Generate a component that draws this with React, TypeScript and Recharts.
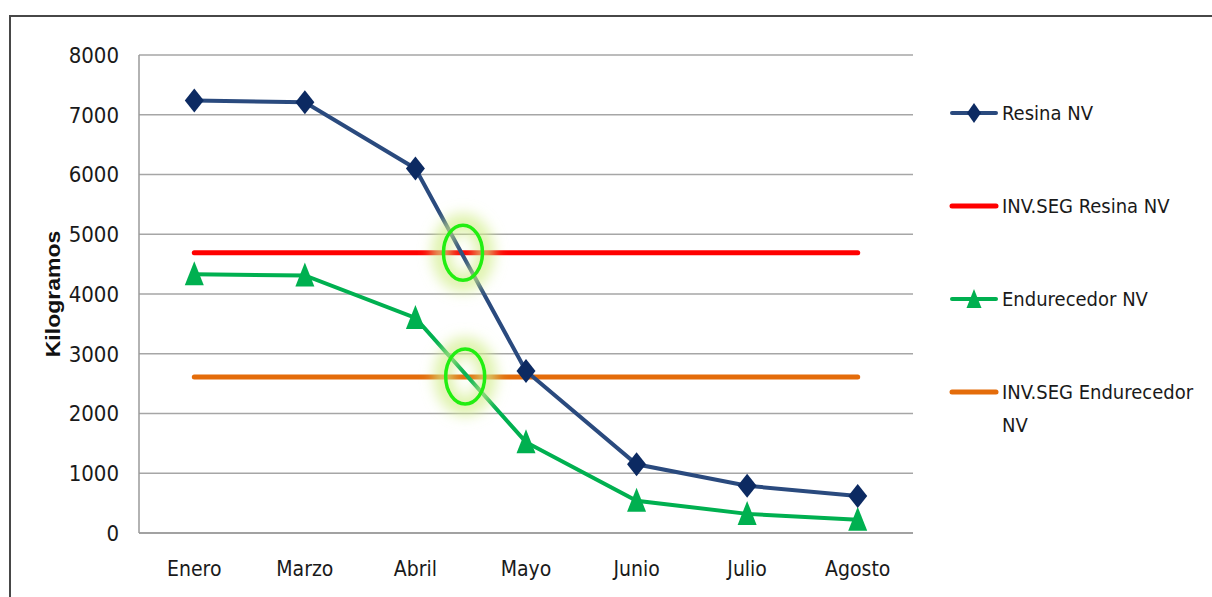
import React from 'react';
import {
  LineChart,
  Line,
  XAxis,
  YAxis,
  CartesianGrid,
  ReferenceDot,
} from 'recharts';

// Monthly stock (kg) and safety-stock levels
const months = ['Enero', 'Marzo', 'Abril', 'Mayo', 'Junio', 'Julio', 'Agosto'];
const resinaNV = [7240, 7210, 6100, 2710, 1150, 790, 620];
const invSegResinaNV = [4690, 4690, 4690, 4690, 4690, 4690, 4690];
const endurecedorNV = [4330, 4310, 3600, 1520, 540, 320, 220];
const invSegEndurecedorNV = [2610, 2610, 2610, 2610, 2610, 2610, 2610];
const yTicks = [0, 1000, 2000, 3000, 4000, 5000, 6000, 7000, 8000];
const monthTicks = months.map((_, i) => i);

// Points where stock drops below the safety level (x as month index)
const highlightX = [2.43, 2.45];
const highlightY = [4690, 2620];

const seriesNames = ['Resina NV', 'INV.SEG Resina NV', 'Endurecedor NV', 'INV.SEG Endurecedor NV'];

const data = months.map((m, i) => ({
  idx: i,
  month: m,
  resina: resinaNV[i],
  invResina: invSegResinaNV[i],
  endurecedor: endurecedorNV[i],
  invEndurecedor: invSegEndurecedorNV[i],
}));

const FONT = "'Liberation Sans Narrow', 'DejaVu Sans Condensed', 'Liberation Sans', sans-serif";
const BLUE_LINE = '#2A4A7E';
const BLUE_MARK = '#0C2A62';
const GREEN = '#00B050';
const RED = '#FF0000';
const ORANGE = '#E46C0A';

const Diamond = (props: any) => {
  const { cx, cy, index } = props;
  if (cx == null || cy == null) return null;
  const w = 9.5;
  const h = 12;
  return (
    <path
      key={`dia-${index}`}
      d={`M${cx},${cy - h} L${cx + w},${cy} L${cx},${cy + h} L${cx - w},${cy} Z`}
      fill={BLUE_MARK}
    />
  );
};

const Triangle = (props: any) => {
  const { cx, cy, index } = props;
  if (cx == null || cy == null) return null;
  const w = 9.5;
  return (
    <path
      key={`tri-${index}`}
      d={`M${cx},${cy - 13} L${cx + w},${cy + 11} L${cx - w},${cy + 11} Z`}
      fill={GREEN}
    />
  );
};

const GlowRing = (props: any) => {
  const { cx, cy } = props;
  if (cx == null || cy == null) return null;
  const id = `glow-${Math.round(cy)}`;
  return (
    <g>
      <defs>
        <filter id={id} x="-100%" y="-100%" width="300%" height="300%">
          <feGaussianBlur stdDeviation="7" />
        </filter>
      </defs>
      <ellipse
        cx={cx}
        cy={cy}
        rx={22}
        ry={30}
        fill="none"
        stroke="#D2EE8C"
        strokeWidth={18}
        strokeOpacity={0.75}
        filter={`url(#${id})`}
      />
      <ellipse cx={cx} cy={cy} rx={19.5} ry={27.5} fill="none" stroke="#22EE11" strokeWidth={3.5} />
    </g>
  );
};

const YLabel = (props: any) => {
  const vb = props.viewBox || {};
  const x = (vb.x ?? 0) - 6;
  const y = (vb.y ?? 0) + (vb.height ?? 0) / 2;
  return (
    <text
      transform={`translate(${x},${y}) rotate(-90) scale(1.15,1)`}
      textAnchor="middle"
      dominantBaseline="central"
      fontFamily="'Liberation Sans', Arial, sans-serif"
      fontWeight="bold"
      fontSize={20}
      fill="#111"
    >
      Kilogramos
    </text>
  );
};

const LegendIcon = ({ kind }: { kind: number }) => {
  const colors = [BLUE_LINE, RED, GREEN, ORANGE];
  return (
    <svg width={48} height={26} style={{ flex: 'none', overflow: 'visible' }}>
      <line x1={2} y1={13} x2={46} y2={13} stroke={colors[kind]} strokeWidth={kind % 2 ? 5 : 4} strokeLinecap="round" />
      {kind === 0 && <path d="M24,3 L31,13 L24,23 L17,13 Z" fill={BLUE_MARK} />}
      {kind === 2 && <path d="M24,3 L31.5,22 L16.5,22 Z" fill={GREEN} />}
    </svg>
  );
};

export default function App() {
  return (
    <div style={{ position: 'absolute', left: 0, top: 0, width: 1212, height: 597, overflow: 'hidden', background: '#fff' }}>
      <div
        style={{
          position: 'absolute',
          left: 9,
          top: 15,
          width: 1230,
          height: 620,
          border: '2px solid #474747',
          boxSizing: 'border-box',
        }}
      />
      <div style={{ position: 'absolute', left: 0, top: 0 }}>
        <LineChart width={1212} height={597} data={data} margin={{ top: 55, right: 299, bottom: 34, left: 59 }}>
          <CartesianGrid vertical={false} stroke="#A6A6A6" strokeWidth={1.5} />
          <XAxis
            dataKey="idx"
            type="number"
            domain={[-0.5, 6.5]}
            allowDataOverflow
            ticks={monthTicks}
            interval={0}
            tickFormatter={(v: number) => months[v] ?? ''}
            height={30}
            axisLine={{ stroke: '#9A9A9A', strokeWidth: 1.5 }}
            tickLine={false}
            tickSize={0}
            tickMargin={28}
            tick={{ fontFamily: FONT, fontSize: 21, fill: '#1a1a1a' }}
          />
          <YAxis
            width={80}
            domain={[0, 8000]}
            ticks={yTicks}
            interval={0}
            axisLine={{ stroke: '#9A9A9A', strokeWidth: 1.5 }}
            tickLine={false}
            tickSize={0}
            tickMargin={20}
            tick={{ fontFamily: FONT, fontSize: 22, fill: '#1a1a1a' }}
            label={{ content: YLabel }}
          />
          <Line
            dataKey="invResina"
            name={seriesNames[1]}
            stroke={RED}
            strokeWidth={5}
            strokeLinecap="round"
            dot={false}
            isAnimationActive={false}
          />
          <Line
            dataKey="invEndurecedor"
            name={seriesNames[3]}
            stroke={ORANGE}
            strokeWidth={5}
            strokeLinecap="round"
            dot={false}
            isAnimationActive={false}
          />
          <Line
            dataKey="endurecedor"
            name={seriesNames[2]}
            stroke={GREEN}
            strokeWidth={4}
            dot={<Triangle />}
            activeDot={false}
            isAnimationActive={false}
          />
          <Line
            dataKey="resina"
            name={seriesNames[0]}
            stroke={BLUE_LINE}
            strokeWidth={4}
            dot={<Diamond />}
            activeDot={false}
            isAnimationActive={false}
          />
          {highlightX.map((hx, i) => (
            <ReferenceDot
              key={`hl-${i}`}
              x={hx}
              y={highlightY[i]}
              shape={<GlowRing />}
              ifOverflow="visible"
            />
          ))}
        </LineChart>
      </div>
      <div
        style={{
          position: 'absolute',
          left: 950,
          top: 100,
          fontFamily: FONT,
          fontSize: 20,
          color: '#1a1a1a',
        }}
      >
        {seriesNames.map((name, i) => (
          <div key={name} style={{ display: 'flex', alignItems: 'flex-start', height: 93 }}>
            <LegendIcon kind={i} />
            <div style={{ width: 204, lineHeight: '33px', marginTop: -3, marginLeft: 4 }}>{name}</div>
          </div>
        ))}
      </div>
    </div>
  );
}
